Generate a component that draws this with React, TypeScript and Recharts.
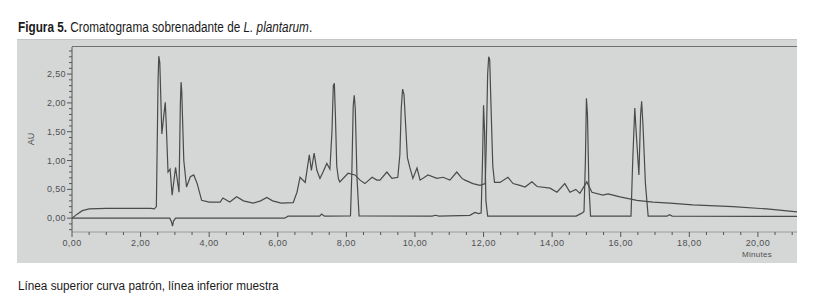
import React from 'react';
import { LineChart, Line, XAxis, YAxis } from 'recharts';

// Upper trace (curva patrón): [minutes, AU]
const upperCurve: [number, number][] = [
  [0, 0], [0.15, 0.07], [0.3, 0.13], [0.5, 0.16], [1.0, 0.17], [2.3, 0.17], [2.4, 0.16],
  [2.46, 0.2], [2.51, 2.4], [2.53, 2.81], [2.56, 2.7], [2.62, 1.46], [2.68, 1.8], [2.72, 2.01],
  [2.75, 1.6], [2.8, 0.8], [2.86, 0.85], [2.92, 0.4], [3.02, 0.88], [3.12, 0.45], [3.16, 2.0],
  [3.18, 2.36], [3.2, 2.2], [3.26, 1.0], [3.34, 0.54], [3.45, 0.72], [3.55, 0.75], [3.65, 0.6],
  [3.78, 0.31], [4.0, 0.28], [4.32, 0.28], [4.4, 0.35], [4.6, 0.28], [4.8, 0.37], [5.0, 0.3],
  [5.28, 0.26], [5.5, 0.3], [5.68, 0.36], [5.85, 0.3], [6.1, 0.26], [6.45, 0.27], [6.56, 0.45],
  [6.65, 0.71], [6.8, 0.62], [6.92, 1.1], [6.98, 0.83], [7.06, 1.13], [7.14, 0.83], [7.23, 0.69],
  [7.32, 0.8], [7.43, 0.95], [7.52, 0.85], [7.58, 1.5], [7.62, 2.3], [7.65, 2.34], [7.68, 1.8],
  [7.72, 0.9], [7.77, 0.68], [7.81, 0.63], [8.05, 0.78], [8.25, 0.75], [8.4, 0.66], [8.54, 0.6],
  [8.75, 0.71], [8.89, 0.66], [8.98, 0.66], [9.18, 0.8], [9.33, 0.69], [9.5, 0.71], [9.56, 1.1],
  [9.6, 1.9], [9.64, 2.24], [9.68, 2.15], [9.73, 1.6], [9.78, 1.05], [9.85, 0.88], [9.94, 0.69],
  [10.06, 0.87], [10.15, 0.66], [10.38, 0.75], [10.64, 0.69], [10.82, 0.71], [11.02, 0.66],
  [11.22, 0.8], [11.37, 0.69], [11.46, 0.66], [11.69, 0.6], [11.9, 0.57], [12.05, 0.6],
  [12.08, 1.3], [12.12, 2.5], [12.15, 2.8], [12.18, 2.75], [12.22, 1.9], [12.27, 0.9],
  [12.32, 0.62], [12.48, 0.62], [12.71, 0.71], [12.86, 0.6], [13.06, 0.57], [13.21, 0.54],
  [13.41, 0.63], [13.56, 0.55], [13.94, 0.52], [14.14, 0.45], [14.37, 0.6], [14.52, 0.45],
  [14.69, 0.5], [14.81, 0.43], [15.01, 0.63], [15.16, 0.45], [15.48, 0.4], [15.63, 0.42],
  [15.98, 0.37], [16.47, 0.31], [16.94, 0.28], [17.43, 0.26], [18.1, 0.23], [19.27, 0.2],
  [20.26, 0.16], [21.14, 0.11],
];

// Lower trace (muestra): [minutes, AU]
const lowerCurve: [number, number][] = [
  [0, 0], [2.85, 0], [2.9, -0.06], [2.93, -0.14], [2.96, -0.05], [3.02, 0], [6.2, 0],
  [6.3, 0.035], [7.22, 0.035], [7.28, 0.07], [7.36, 0.035], [8.12, 0.04], [8.16, 0.8],
  [8.2, 1.95], [8.23, 2.13], [8.26, 1.9], [8.31, 0.7], [8.37, 0.04], [10.5, 0.035],
  [10.6, 0.05], [10.7, 0.035], [11.6, 0.05], [11.75, 0.1], [11.85, 0.08], [11.93, 0.09],
  [11.97, 1.0], [12.0, 1.96], [12.03, 1.5], [12.07, 0.3], [12.12, 0.035], [14.7, 0.035],
  [14.81, 0.07], [14.9, 0.1], [14.93, 0.12], [14.97, 1.0], [15.0, 2.08], [15.03, 1.8],
  [15.07, 0.6], [15.12, 0.035], [16.3, 0.035], [16.35, 1.0], [16.41, 1.91], [16.45, 1.5],
  [16.53, 0.75], [16.58, 1.8], [16.61, 2.03], [16.65, 1.6], [16.72, 0.6], [16.8, 0.035],
  [17.35, 0.035], [17.42, 0.06], [17.5, 0.035], [21.14, 0.03],
];

const xMajorTicks = [0, 2, 4, 6, 8, 10, 12, 14, 16, 18, 20];
const yMajorTicks = [0, 0.5, 1, 1.5, 2, 2.5];
const xDomain: [number, number] = [0, 21.14];
const yDomain: [number, number] = [-0.24, 2.97];

const xAllTicks = Array.from({ length: 43 }, (_, i) => i * 0.5);
const yAllTicks = Array.from({ length: 32 }, (_, i) => Math.round(i - 2) / 10);

const upperData = upperCurve.map(([t, au]) => ({ t, au }));
const lowerData = lowerCurve.map(([t, au]) => ({ t, au }));

const W = 818;
const H = 307;
const PLOT_LEFT = 72;
const PLOT_TOP = 47;
const PLOT_RIGHT = 797;
const PLOT_BOTTOM = 232;
const Y_AXIS_W = 40;
const X_AXIS_H = 24;

const fmt = (v: number) => v.toFixed(2).replace('.', ',');
const axisFont = '"Liberation Sans", Arial, sans-serif';

const isMajor = (v: number, list: number[]) => list.some((m) => Math.abs(m - v) < 1e-6);

const XTick = (props: any) => {
  const { x, payload } = props;
  const v = payload.value as number;
  const major = isMajor(v, xMajorTicks);
  return (
    <g>
      <line x1={x} x2={x} y1={PLOT_BOTTOM} y2={PLOT_BOTTOM + (major ? 5 : 3)} stroke="#555" strokeWidth={1} />
      {major && (
        <text x={x} y={PLOT_BOTTOM + 14} textAnchor="middle" fontSize={9} fill="#505050" fontFamily={axisFont} letterSpacing={0.4}>
          {fmt(v)}
        </text>
      )}
    </g>
  );
};

const YTick = (props: any) => {
  const { y, payload } = props;
  const v = payload.value as number;
  const major = isMajor(v, yMajorTicks);
  return (
    <g>
      <line x1={PLOT_LEFT - (major ? 5 : 3)} x2={PLOT_LEFT} y1={y} y2={y} stroke="#555" strokeWidth={1} />
      {major && (
        <text x={PLOT_LEFT - 6} y={y + 3} textAnchor="end" fontSize={9} fill="#505050" fontFamily={axisFont} letterSpacing={0.4}>
          {fmt(v)}
        </text>
      )}
    </g>
  );
};

export default function App() {
  return (
    <div style={{ position: 'absolute', left: 0, top: 0, width: W, height: H, background: '#fff', overflow: 'hidden' }}>
      <div
        style={{
          position: 'absolute', left: 18, top: 19, fontSize: 14, lineHeight: '16px',
          fontFamily: axisFont, color: '#1a1a1a', whiteSpace: 'nowrap',
          transform: 'scaleX(0.84)', transformOrigin: 'left top',
        }}
      >
        <span style={{ fontWeight: 'bold' }}>Figura 5.</span> Cromatograma sobrenadante de <i>L. plantarum</i>.
      </div>
      <div style={{ position: 'absolute', left: 17, top: 39, width: 780, height: 223, background: '#d5d7d7', borderTop: '1px solid #c4c6c6' }} />
      <div style={{ position: 'absolute', left: PLOT_LEFT, top: PLOT_TOP - 1, width: PLOT_RIGHT - PLOT_LEFT, height: 1, background: '#707070' }} />
      <div style={{ position: 'absolute', left: 0, top: 0 }}>
        <LineChart
          width={W}
          height={H}
          margin={{ top: PLOT_TOP, right: W - PLOT_RIGHT, bottom: H - PLOT_BOTTOM - X_AXIS_H, left: PLOT_LEFT - Y_AXIS_W }}
        >
          <XAxis
            dataKey="t"
            type="number"
            domain={xDomain}
            allowDataOverflow
            ticks={xAllTicks}
            interval={0}
            height={X_AXIS_H}
            tickLine={false}
            axisLine={{ stroke: '#9a9a9a' }}
            tick={<XTick />}
          />
          <YAxis
            type="number"
            domain={yDomain}
            allowDataOverflow
            ticks={yAllTicks}
            interval={0}
            width={Y_AXIS_W}
            tickLine={false}
            axisLine={{ stroke: '#555' }}
            tick={<YTick />}
          />
          <Line data={upperData} dataKey="au" type="linear" stroke="#4a4a4a" strokeWidth={1.2} dot={false} isAnimationActive={false} />
          <Line data={lowerData} dataKey="au" type="linear" stroke="#4a4a4a" strokeWidth={1.2} dot={false} isAnimationActive={false} />
        </LineChart>
      </div>
      <div
        style={{
          position: 'absolute', left: 31, top: 139, transform: 'translate(-50%, -50%) rotate(-90deg)',
          fontSize: 9, fontFamily: axisFont, color: '#505050',
        }}
      >
        AU
      </div>
      <div
        style={{
          position: 'absolute', left: 757, top: 254, transform: 'translate(-50%, -50%)',
          fontSize: 8, lineHeight: '9px', fontFamily: axisFont, color: '#505050', letterSpacing: 0.3,
        }}
      >
        Minutes
      </div>
      <div
        style={{
          position: 'absolute', left: 18, top: 279, fontSize: 12.5, lineHeight: '14px',
          fontFamily: axisFont, color: '#1a1a1a', whiteSpace: 'nowrap',
          transform: 'scaleX(0.94)', transformOrigin: 'left top',
        }}
      >
        Línea superior curva patrón, línea inferior muestra
      </div>
    </div>
  );
}
